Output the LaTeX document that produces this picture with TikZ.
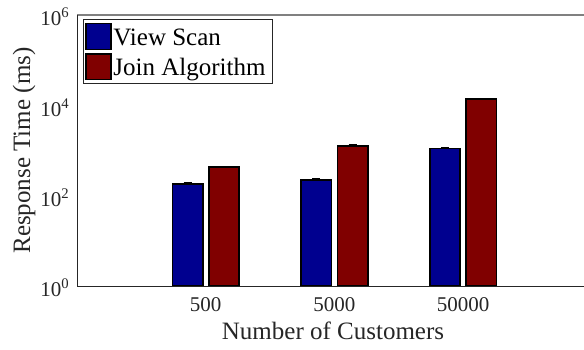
\documentclass[tikz,border=0pt]{standalone}
\usepackage{fontspec}
\setmainfont{Liberation Serif}
\usetikzlibrary{positioning}

\definecolor{scanblue}{rgb}{0,0,0.56}
\definecolor{joinred}{rgb}{0.5,0,0}
\definecolor{axisgray}{gray}{0.15}

\begin{document}
\begin{tikzpicture}[x=0.5pt, y=-0.5pt,
    barbox/.style={draw=black, line width=0.8pt},
    errbar/.style={draw=black, line width=0.6pt},
    axisline/.style={draw=axisgray, line width=0.5pt},
    frameline/.style={draw=gray, line width=0.9pt},
    ticklabel/.style={font=\fontsize{10.5}{12}\selectfont, text=axisgray, inner sep=0pt},
    axislabel/.style={font=\fontsize{12.5}{15}\selectfont, text=axisgray, inner sep=0pt},
    legendtext/.style={font=\fontsize{12.5}{15}\selectfont, text=black, inner sep=0pt, anchor=base west},
  ]
  \useasboundingbox (0,0) rectangle (584,349);

  % === Bars (log scale: 10^0 at 286, 45.17 per decade) ===
  \foreach \g/\lbl/\vs/\vj in {1/500/181/425, 2/5000/222/1257, 3/50000/1096/13600} {
    \pgfmathsetmacro\cx{77+128.7*\g}
    \pgfmathsetmacro\ys{286-45.17*log10(\vs)}
    \pgfmathsetmacro\yj{286-45.17*log10(\vj)}
    \draw[barbox, fill=scanblue] (\cx-33.4,286) rectangle (\cx-3,\ys);
    \draw[barbox, fill=joinred] (\cx+3,286) rectangle (\cx+33.4,\yj);
    \draw[errbar] (\cx-22.2,\ys-1) -- (\cx-14.2,\ys-1);
    \draw[errbar] (\cx+14.2,\yj-1) -- (\cx+22.2,\yj-1);
    \node[ticklabel] (xt\g) at (\cx,305) {\lbl};
  }

  % Axes
  \draw[frameline] (77,15) -- (584,15);
  \draw[axisline] (77,15) -- (77,286) -- (584,286);

  % Y tick labels
  \foreach \e in {0,2,4,6} {
    \node[ticklabel, anchor=east] (yt\e) at (70,{286-45.17*\e+2}) {10\textsuperscript{\e}};
  }

  % Axis labels
  \node[axislabel] (xlab) at (333,331) {Number of Customers};
  \node[axislabel, rotate=90] (ylab) at (24,150.5) {Response Time (ms)};

  % Legend
  \draw[draw=axisgray, line width=0.5pt, fill=white] (83.3,19.3) rectangle (272.7,83.3);
  \draw[barbox, fill=scanblue] (86,23.3) rectangle (111,49.3);
  \draw[barbox, fill=joinred] (86,54) rectangle (111,79.3);
  \node[legendtext] (lscan) at (113,45) {View Scan};
  \node[legendtext] (ljoin) at (113,75) {Join Algorithm};

\end{tikzpicture}
\end{document}
